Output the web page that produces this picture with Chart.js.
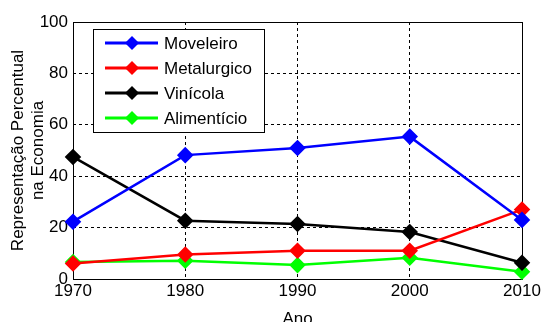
<!DOCTYPE html>
<html>
<head>
<meta charset="utf-8">
<script src="https://cdn.jsdelivr.net/npm/chart.js@4"></script>
<style>
  html, body { margin: 0; padding: 0; background: #fff; }
  #wrap { width: 541px; height: 322px; }
</style>
</head>
<body>
<div id="wrap"><canvas id="c" width="541" height="322"></canvas></div>
<script>
// anos e séries
const anos        = [1970, 1980, 1990, 2000, 2010];
const moveleiro   = [22.3, 48.2, 51, 55.4, 23];
const metalurgico = [6, 9.5, 11, 11, 27];
const vinicola    = [47.5, 22.7, 21.4, 18.3, 6.3];
const alimenticio = [6.6, 7.1, 5.4, 8.3, 2.8];
const yTicks      = [0, 20, 40, 60, 80, 100];

const FONT = 'Liberation Sans, Arial, sans-serif';

function serie(label, valores, cor) {
  return {
    label: label,
    data: anos.map((a, i) => ({ x: a, y: valores[i] })),
    borderColor: cor,
    backgroundColor: cor,
    borderWidth: 2.5,
    pointStyle: 'rectRot',
    pointRadius: 6.5,
    pointHoverRadius: 6.5,
    clip: false,
  };
}

// caixa do eixo (estilo MATLAB)
const caixa = {
  id: 'caixa',
  beforeDatasetsDraw(chart) {
    const { ctx, chartArea: a } = chart;
    ctx.save();
    ctx.strokeStyle = '#000';
    ctx.lineWidth = 1;
    ctx.strokeRect(Math.round(a.left) + 0.5, Math.round(a.top) + 0.5,
      Math.round(a.right - a.left), Math.round(a.bottom - a.top));
    ctx.restore();
  }
};

// legenda com linha + marcador
const legenda = {
  id: 'legenda',
  afterDraw(chart) {
    const ctx = chart.ctx;
    const x0 = 93, y0 = 29, w = 171, h = 103;
    ctx.save();
    ctx.fillStyle = '#fff';
    ctx.fillRect(x0, y0, w, h);
    ctx.strokeStyle = '#000';
    ctx.lineWidth = 1;
    ctx.strokeRect(x0 + 0.5, y0 + 0.5, w, h);
    ctx.font = '17px ' + FONT;
    ctx.textBaseline = 'middle';
    chart.data.datasets.forEach((ds, i) => {
      const y = 43 + i * 25;
      ctx.strokeStyle = ds.borderColor;
      ctx.lineWidth = 3;
      ctx.beginPath();
      ctx.moveTo(105, y);
      ctx.lineTo(158, y);
      ctx.stroke();
      ctx.fillStyle = ds.borderColor;
      ctx.beginPath();
      ctx.moveTo(132, y - 7);
      ctx.lineTo(139, y);
      ctx.lineTo(132, y + 7);
      ctx.lineTo(125, y);
      ctx.closePath();
      ctx.fill();
      ctx.fillStyle = '#000';
      ctx.fillText(ds.label, 164, y + 1);
    });
    ctx.restore();
  }
};

new Chart(document.getElementById('c'), {
  type: 'line',
  data: {
    datasets: [
      serie('Moveleiro', moveleiro, '#0000ff'),
      serie('Metalurgico', metalurgico, '#ff0000'),
      serie('Vinícola', vinicola, '#000000'),
      serie('Alimentício', alimenticio, '#00ff00'),
    ]
  },
  options: {
    responsive: false,
    animation: false,
    layout: { padding: { left: 0, right: 19, top: 22, bottom: 0 } },
    plugins: { legend: { display: false }, tooltip: { enabled: false } },
    scales: {
      x: {
        type: 'linear',
        min: 1970, max: 2010,
        afterBuildTicks(s) { s.ticks = anos.map(v => ({ value: v })); },
        afterFit(s) { s.height = 43; s.paddingLeft = 0; s.paddingRight = 0; },
        ticks: { color: '#000', font: { family: FONT, size: 17 }, padding: 2, callback: v => String(v) },
        grid: { color: '#000', lineWidth: 1, drawTicks: false },
        border: { display: false, dash: [3, 3] },
        title: { display: true, text: 'Ano', color: '#000', font: { family: FONT, size: 17 }, padding: { top: 0, bottom: -8 } },
      },
      y: {
        min: 0, max: 100,
        afterBuildTicks(s) { s.ticks = yTicks.map(v => ({ value: v })); },
        afterFit(s) { s.width = 73; },
        ticks: { color: '#000', font: { family: FONT, size: 17 }, padding: 5 },
        grid: { color: '#000', lineWidth: 1, drawTicks: false },
        border: { display: false, dash: [3, 3] },
        title: { display: true, text: ['Representação Percentual', 'na Economia'], color: '#000',
                 font: { family: FONT, size: 17, lineHeight: 1.2 }, padding: { top: 8, bottom: 0 } },
      }
    }
  },
  plugins: [caixa, legenda]
});
</script>
</body>
</html>
